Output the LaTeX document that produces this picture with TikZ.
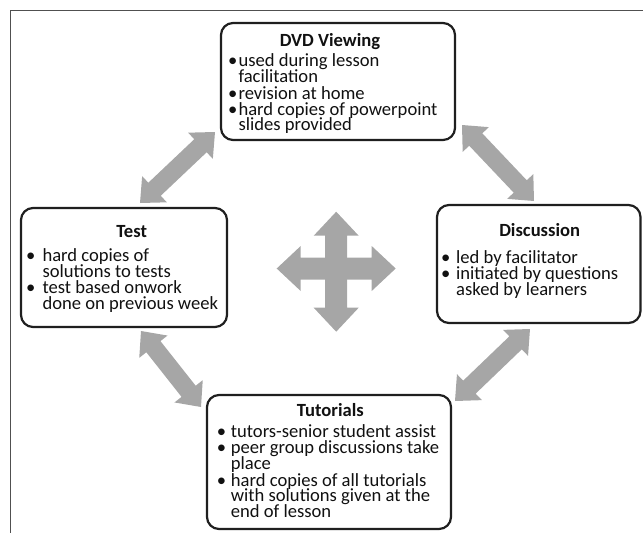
\documentclass[tikz,border=0pt]{standalone}
\usepackage{fontspec}
\setmainfont{Carlito}
\usetikzlibrary{calc}
\definecolor{arr}{HTML}{A6A6A6}
\definecolor{frm}{HTML}{505050}
\definecolor{bdr}{HTML}{1F1F1F}
\definecolor{txt}{HTML}{111111}
% #1 start, #2 end, #3 head length, #4 half head width, #5 half shaft width
\newcommand\blockarrow[5]{%
  \fill[arr] (#1)
    -- ($(#1)!#3!(#2)!#4!90:(#2)$)
    -- ($(#1)!#3!(#2)!#5!90:(#2)$)
    -- ($(#2)!#3!(#1)!#5!-90:(#1)$)
    -- ($(#2)!#3!(#1)!#4!-90:(#1)$)
    -- (#2)
    -- ($(#2)!#3!(#1)!#4!90:(#1)$)
    -- ($(#2)!#3!(#1)!#5!90:(#1)$)
    -- ($(#1)!#3!(#2)!#5!-90:(#2)$)
    -- ($(#1)!#3!(#2)!#4!-90:(#2)$)
    -- cycle;}
\begin{document}
\begin{tikzpicture}[x=1pt,y=-1pt,
  box/.style={draw=bdr, line width=2.2pt, rounded corners=12pt, fill=white, inner sep=0pt},
  ttl/.style={anchor=base, inner sep=0pt, text=txt, font=\fontsize{18.6}{16}\selectfont\bfseries},
  ln/.style={anchor=base west, inner sep=0pt, text=txt, font=\fontsize{18.6}{16}\selectfont},
  bul/.style={anchor=base, inner sep=0pt, text=txt, font=\fontsize{18.6}{16}\selectfont}]
\useasboundingbox (0,0) rectangle (643,533);
% frame
\draw[frm, line width=1.4pt] (643,10.5) -- (10.5,10.5) -- (10.5,533);

% arrow end points
\coordinate (a1s) at (140,203);   \coordinate (a1e) at (215,132);
\coordinate (a2s) at (462,125);   \coordinate (a2e) at (534,201);
\coordinate (a3s) at (141,331);   \coordinate (a3e) at (201,407);
\coordinate (a4s) at (455,401);   \coordinate (a4e) at (530,329);
\coordinate (cvt) at (336.2,211.7); \coordinate (cvb) at (336.2,331.7);
\coordinate (chl) at (276.7,268.5); \coordinate (chr) at (395.7,268.5);

\blockarrow{a1s}{a1e}{20pt}{18pt}{9pt}
\blockarrow{a2s}{a2e}{20pt}{18pt}{9pt}
\blockarrow{a3s}{a3e}{20pt}{18pt}{9pt}
\blockarrow{a4s}{a4e}{20pt}{18pt}{9pt}
\blockarrow{cvt}{cvb}{24pt}{22.5pt}{11pt}
\blockarrow{chl}{chr}{24pt}{22.5pt}{11pt}

% boxes
\node[box, minimum width=234pt, minimum height=117pt] (dvd) at (338,81.5) {};
\node[box, minimum width=206pt, minimum height=119pt] (test) at (124,267.5) {};
\node[box, minimum width=203.5pt, minimum height=118pt] (disc) at (538.75,264) {};
\node[box, minimum width=244pt, minimum height=134pt] (tut) at (329,462) {};

% DVD Viewing
\node[ttl] (dvdT) at (330,46.7) {DVD Viewing};
\node[bul] (dvdB1) at (232.8,66.7) {•};
\node[ln] (dvdL1) at (238.3,66.7) {used during lesson};
\node[ln] (dvdL2) at (238.3,82.7) {facilitation};
\node[bul] (dvdB2) at (232.8,99) {•};
\node[ln] (dvdL3) at (238.3,99) {revision at home};
\node[bul] (dvdB3) at (232.8,115) {•};
\node[ln] (dvdL4) at (238.3,115) {hard copies of powerpoint};
\node[ln] (dvdL5) at (238.3,130.7) {slides provided};

% Test
\node[ttl] (testT) at (131.7,237.7) {Test};
\node[bul] (testB1) at (30.8,261.7) {•};
\node[ln] (testL1) at (42.3,261.7) {hard copies of};
\node[ln] (testL2) at (42.3,277.3) {solutions to tests};
\node[bul] (testB2) at (30.8,293.3) {•};
\node[ln] (testL3) at (42.3,293.3) {test based onwork};
\node[ln] (testL4) at (42.3,309) {done on previous week};

% Discussion
\node[ttl] (discT) at (539.7,236.7) {Discussion};
\node[bul] (discB1) at (445.7,263.3) {•};
\node[ln] (discL1) at (456,263.3) {led by facilitator};
\node[bul] (discB2) at (445.7,279.3) {•};
\node[ln] (discL2) at (456,279.3) {initiated by questions};
\node[ln] (discL3) at (456,295) {asked by learners};

% Tutorials
\node[ttl] (tutT) at (330.3,416.7) {Tutorials};
\node[bul] (tutB1) at (221.5,437.3) {•};
\node[ln] (tutL1) at (230.7,437.3) {tutors-senior student assist};
\node[bul] (tutB2) at (221.5,453.3) {•};
\node[ln] (tutL2) at (230.7,453.3) {peer group discussions take};
\node[ln] (tutL3) at (230.7,469.3) {place};
\node[bul] (tutB3) at (221.5,486) {•};
\node[ln] (tutL4) at (230.7,486) {hard copies of all tutorials};
\node[ln] (tutL5) at (230.7,501.7) {with solutions given at the};
\node[ln] (tutL6) at (230.7,517.3) {end of lesson};
\end{tikzpicture}
\end{document}
